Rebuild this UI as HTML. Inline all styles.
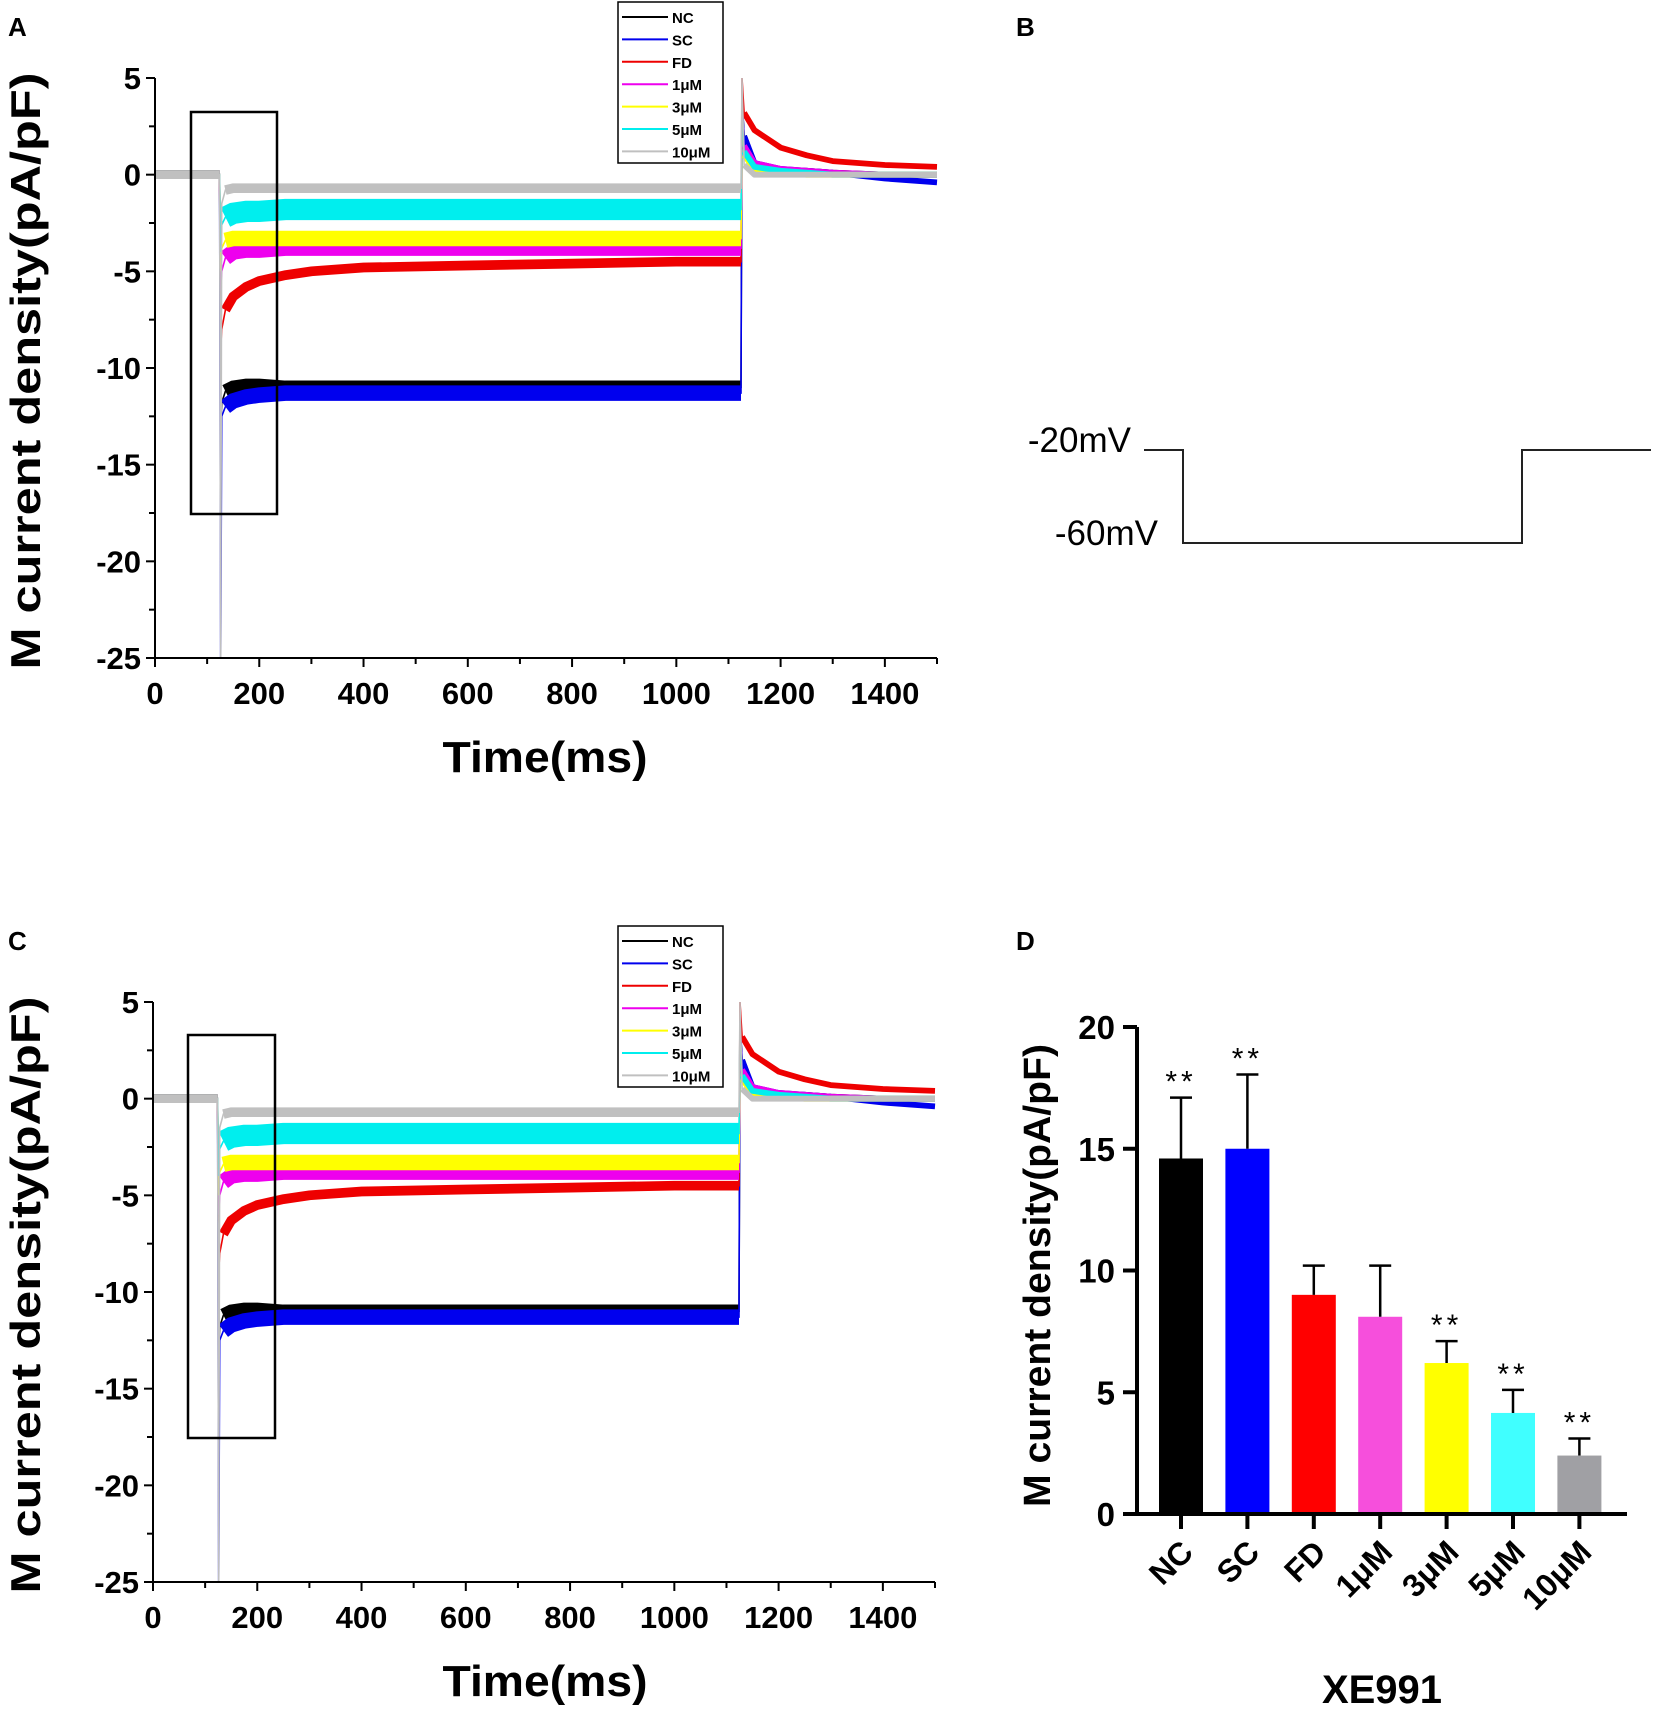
<!DOCTYPE html>
<html><head><meta charset="utf-8">
<style>
html,body{margin:0;padding:0;background:#fff;}
svg{display:block;font-family:"Liberation Sans",Arial,sans-serif;}
</style></head>
<body>
<svg id="fig" width="1656" height="1709" viewBox="0 0 1656 1709" xmlns="http://www.w3.org/2000/svg">
<text x="8" y="36" font-size="26" font-weight="bold">A</text>
<text x="1016" y="36" font-size="26" font-weight="bold">B</text>
<text x="8" y="950" font-size="26" font-weight="bold">C</text>
<text x="1016" y="950" font-size="26" font-weight="bold">D</text>
<g id="panelB">
<polyline points="1144,450 1183,450 1183,543 1522,543 1522,450 1651,450" fill="none" stroke="#222" stroke-width="2"/>
<text x="1131" y="452" font-size="35" text-anchor="end">-20mV</text>
<text x="1158" y="545" font-size="35" text-anchor="end">-60mV</text>
</g>
<g id="panelA"></g>
<g id="panelC"></g>
<g id="panelD"></g>
</svg>
<script>
const NS="http://www.w3.org/2000/svg";
// Trace data (time in ms, current density pA/pF)
const times=[0,124,126,128,135,150,175,200,250,300,400,600,800,1000,1124,1126,1130,1150,1200,1250,1300,1400,1500];
const traceNC=[0,0,-13,-11.8,-11.2,-11,-10.9,-10.9,-11,-11,-11,-11,-11,-11,-11,4,2,0.5,0.2,0.2,0.1,0,0];
const traceSC=[0,0,-25,-12.5,-12,-11.7,-11.5,-11.4,-11.3,-11.3,-11.3,-11.3,-11.3,-11.3,-11.3,4,2,0.6,0.3,0.2,0.1,-0.2,-0.4];
const traceFD=[0,0,-9,-8,-7,-6.3,-5.8,-5.5,-5.2,-5,-4.8,-4.7,-4.6,-4.5,-4.5,5,3.2,2.3,1.4,1,0.7,0.5,0.4];
const trace1uM=[0,0,-6,-5,-4.3,-4,-3.9,-3.9,-3.8,-3.8,-3.8,-3.8,-3.8,-3.8,-3.8,4,1.5,0.6,0.3,0.2,0.1,0,0];
const trace3uM=[0,0,-5,-3.8,-3.4,-3.3,-3.3,-3.3,-3.3,-3.3,-3.3,-3.3,-3.3,-3.3,-3.3,3.5,1,0.3,0.1,0,0,0,0];
const trace5uM=[0,0,-4,-2.6,-2.2,-2,-1.9,-1.9,-1.8,-1.8,-1.8,-1.8,-1.8,-1.8,-1.8,4,1.2,0.4,0.2,0.1,0,0,0];
const trace10uM=[0,0,-25,-1.5,-0.8,-0.7,-0.7,-0.7,-0.7,-0.7,-0.7,-0.7,-0.7,-0.7,-0.7,5,0.5,0,0,0,0,0,0];
const noiseBand=[0.7,0.8,0.5,0.8,0.8,1.1,0.5];
const seriesNames=["NC","SC","FD","1μM","3μM","5μM","10μM"];
const seriesColors=["#000000","#0000ee","#ee0000","#ee00ee","#ffff00","#00eeee","#c0c0c0"];
const xTicks=[0,200,400,600,800,1000,1200,1400];
const yTicks=[5,0,-5,-10,-15,-20,-25];
// Bar chart data
const barCats=["NC","SC","FD","1μM","3μM","5μM","10μM"];
const barVals=[14.6,15.0,9.0,8.1,6.2,4.15,2.4];
const barErr=[2.5,3.05,1.2,2.1,0.9,0.95,0.7];
const barSig=[true,true,false,false,true,true,true];
const barColors=["#000000","#0000ff","#ff0000","#f64fdc","#ffff00","#40ffff","#a0a0a4"];
const barTicks=[0,5,10,15,20];

function el(parent,tag,attrs){const e=document.createElementNS(NS,tag);for(const k in attrs)e.setAttribute(k,attrs[k]);parent.appendChild(e);return e;}

function drawTracePanel(g,P){
  const sx=t=>P.x0+(t-0)/(1500-0)*(P.x1-P.x0);
  const sy=v=>P.y5+(5-v)/(30)*(P.y25-P.y5);
  const u=(P.y25-P.y5)/30;
  const traces=[traceNC,traceSC,traceFD,trace1uM,trace3uM,trace5uM,trace10uM];
  traces.forEach((tr,i)=>{
    const pts=times.map((t,j)=>sx(t).toFixed(1)+","+sy(tr[j]).toFixed(1)).join(" ");
    const l=el(g,"polyline",{points:pts,fill:"none",stroke:seriesColors[i],"stroke-width":1.6});
    
    
    const w=noiseBand[i]*u;
    const steady=times.map((t,j)=>[t,tr[j]]).filter(p=>p[0]>=135&&p[0]<=1124);
    const b=el(g,"polyline",{points:steady.map(p=>sx(p[0]).toFixed(1)+","+sy(p[1]).toFixed(1)).join(" "),fill:"none",stroke:seriesColors[i],"stroke-width":w.toFixed(1),"stroke-linecap":"butt"});
    
    
    const base=times.map((t,j)=>[t,tr[j]]).filter(p=>p[0]<=124);
    const bb=el(g,"polyline",{points:base.map(p=>sx(p[0]).toFixed(1)+","+sy(p[1]).toFixed(1)).join(" "),fill:"none",stroke:seriesColors[i],"stroke-width":(0.45*u).toFixed(1)});
    
    
    const tail=times.map((t,j)=>[t,tr[j]]).filter(p=>p[0]>=1130);
    const tb=el(g,"polyline",{points:tail.map(p=>sx(p[0]).toFixed(1)+","+sy(p[1]).toFixed(1)).join(" "),fill:"none",stroke:seriesColors[i],"stroke-width":(0.3*u).toFixed(1),"stroke-linejoin":"round"});
    
    
  });
  const ax=el(g,"path",{d:`M${P.x0},${P.y5} V${P.y25} H${P.x1}`,fill:"none",stroke:"#000","stroke-width":2});
  
  
  for(let t=0;t<=1500;t+=100){
    const major=t%200===0;
    el(g,"line",{x1:sx(t),x2:sx(t),y1:P.y25,y2:P.y25+(major?9:6),stroke:"#000","stroke-width":2});
  }
  xTicks.forEach(t=>{
    const tx=el(g,"text",{x:sx(t),y:P.y25+46,"font-size":31,"font-weight":"bold","text-anchor":"middle"});
    tx.textContent=t;
    
    
  });
  for(let v=5;v>=-25;v-=2.5){
    const major=v%5===0;
    el(g,"line",{x1:P.x0,x2:P.x0-(major?9:6),y1:sy(v),y2:sy(v),stroke:"#000","stroke-width":2});
  }
  yTicks.forEach(v=>{
    const tx=el(g,"text",{x:P.x0-14,y:sy(v)+11,"font-size":31,"font-weight":"bold","text-anchor":"end"});
    tx.textContent=v;
    
    
  });
  const xt=el(g,"text",{x:545,y:P.y25+114,"font-size":44,"font-weight":"bold","text-anchor":"middle",textLength:205,lengthAdjust:"spacingAndGlyphs"});
  xt.textContent="Time(ms)";
  
  
  const cy=(P.y5+P.y25)/2+3;
  const yt=el(g,"text",{x:0,y:0,transform:`translate(40,${cy}) rotate(-90)`,"font-size":42,"font-weight":"bold","text-anchor":"middle",textLength:597,lengthAdjust:"spacingAndGlyphs"});
  yt.textContent="M current density(pA/pF)";
  
  
  const box=el(g,"rect",{x:P.bx,y:P.by,width:P.bw,height:P.bh,fill:"none",stroke:"#000","stroke-width":2.5});
  
  
  const lg=el(g,"g",{});
  
  
  el(lg,"rect",{x:P.lx,y:P.ly,width:105,height:161,fill:"#fff",stroke:"#000","stroke-width":1.5});
  seriesNames.forEach((n,i)=>{
    const yy=P.ly+15+i*22.4;
    const ln=el(lg,"line",{x1:P.lx+4,x2:P.lx+50,y1:yy,y2:yy,stroke:seriesColors[i],"stroke-width":2});
    
    
    const tx=el(lg,"text",{x:P.lx+54,y:yy+6,"font-size":15,"font-weight":"bold"});
    tx.textContent=n;
    
    
  });
}
drawTracePanel(document.getElementById("panelA"),{x0:155,x1:937,y5:78,y25:658,bx:191,by:112,bw:86,bh:402,lx:618,ly:2});
drawTracePanel(document.getElementById("panelC"),{x0:153,x1:935,y5:1002,y25:1582,bx:188,by:1035,bw:87,bh:403,lx:618,ly:926});

(function(){
  const g=document.getElementById("panelD");
  const X0=1137,X1=1627,Y0=1514,Y20=1027;
  const sy=v=>Y0-(v/20)*(Y0-Y20);
  const pitch=66.4, first=1181, bw=44;
  const cx=i=>first+i*pitch;
  barVals.forEach((v,i)=>{
    const r=el(g,"rect",{x:cx(i)-bw/2,y:sy(v),width:bw,height:Y0-sy(v),fill:barColors[i]});
    
    
    const e=el(g,"path",{d:`M${cx(i)},${sy(v)} V${sy(v+barErr[i])} M${cx(i)-11},${sy(v+barErr[i])} H${cx(i)+11}`,stroke:"#000","stroke-width":2.5,fill:"none"});
    
    
    if(barSig[i]){
      const s=el(g,"text",{x:cx(i),y:sy(v+barErr[i])-6,"font-size":30,"text-anchor":"middle","letter-spacing":"4"});
      s.textContent="**";
      
      
    }
    el(g,"line",{x1:cx(i),x2:cx(i),y1:Y0,y2:Y0+15,stroke:"#000","stroke-width":4});
    const t=el(g,"text",{x:0,y:0,transform:`translate(${cx(i)+14},${Y0+40}) rotate(-45)`,"font-size":32,"font-weight":"bold","text-anchor":"end"});
    t.textContent=barCats[i];
    
    
  });
  const ax=el(g,"path",{d:`M${X0},${Y20} V${Y0} H${X1}`,fill:"none",stroke:"#000","stroke-width":4});
  
  
  barTicks.forEach(v=>{
    el(g,"line",{x1:X0,x2:X0-14,y1:sy(v),y2:sy(v),stroke:"#000","stroke-width":4});
    const t=el(g,"text",{x:X0-22,y:sy(v)+12,"font-size":33,"font-weight":"bold","text-anchor":"end"});
    t.textContent=v;
    
    
  });
  const yt=el(g,"text",{x:0,y:0,transform:`translate(1050,${(Y0+Y20)/2+5}) rotate(-90)`,"font-size":38,"font-weight":"bold","text-anchor":"middle",textLength:463,lengthAdjust:"spacingAndGlyphs"});
  yt.textContent="M current density(pA/pF)";
  
  
  const xt=el(g,"text",{x:1382,y:1703,"font-size":40,"font-weight":"bold","text-anchor":"middle"});
  xt.textContent="XE991";
  
  
})();
</script>
</body></html>
